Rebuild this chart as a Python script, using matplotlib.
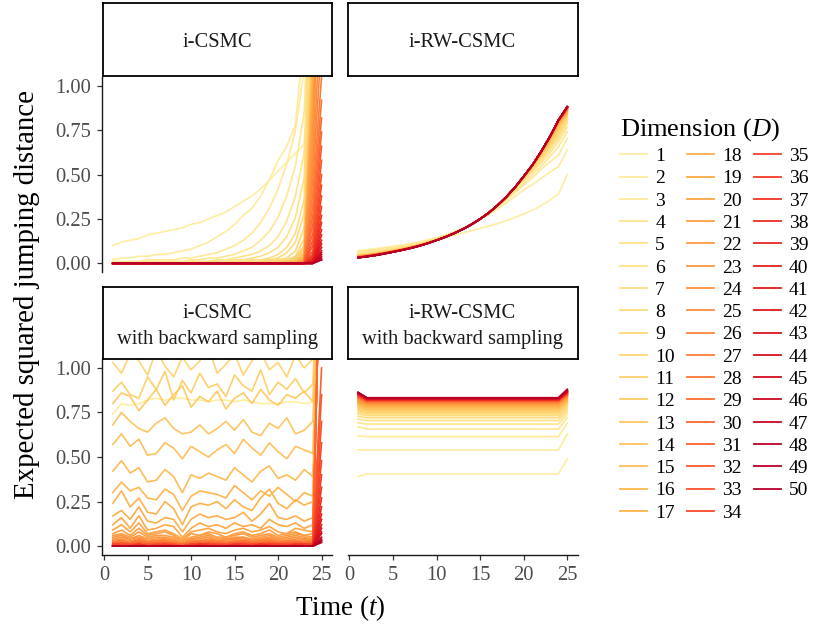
import numpy as np
import matplotlib
matplotlib.use("Agg")
import matplotlib.pyplot as plt

# Times-like serif everywhere, italic maths for t and D
plt.rcParams['font.family'] = ['Liberation Serif', 'DejaVu Serif']
plt.rcParams['mathtext.fontset'] = 'custom'
plt.rcParams['mathtext.rm'] = 'Liberation Serif'
plt.rcParams['mathtext.it'] = 'Liberation Serif:italic'

time_steps = list(range(1, 26))
dimensions = list(range(1, 51))
panel_titles = ['i-CSMC', 'i-RW-CSMC',
                'i-CSMC\nwith backward sampling', 'i-RW-CSMC\nwith backward sampling']

# i-CSMC, ESJD in hundredths: one row per D = 1..50, columns t = 1..25
csmc_esjd = """
10 12 13 14 16 17 18 19 20 22 23 25 27 29 32 35 38 42 47 52 57 62 67 130 200
2 3 3 4 4 5 5 6 7 8 10 12 15 18 22 27 31 38 47 58 66 78 130 200 200
1 1 1 1 2 2 2 2 3 3 4 5 6 8 10 13 17 23 31 42 56 75 110 200 200
0 0 1 1 1 1 1 1 1 2 2 3 3 4 5 7 9 13 18 26 38 55 85 200 200
0 0 0 0 0 0 1 1 1 1 1 1 2 2 3 4 5 7 10 15 24 38 62 200 200
0 0 0 0 0 0 0 0 0 1 1 1 1 1 2 2 3 4 6 9 15 26 48 200 200
0 0 0 0 0 0 0 0 0 0 0 1 1 1 1 1 2 2 3 5 9 17 36 200 200
0 0 0 0 0 0 0 0 0 0 0 0 0 0 1 1 1 1 2 3 6 12 28 190 200
0 0 0 0 0 0 0 0 0 0 0 0 0 0 0 0 1 1 1 2 3 7 20 170 200
0 0 0 0 0 0 0 0 0 0 0 0 0 0 0 0 0 1 1 1 2 4 14 150 200
0 0 0 0 0 0 0 0 0 0 0 0 0 0 0 0 0 0 1 1 1 3 10 140 200
0 0 0 0 0 0 0 0 0 0 0 0 0 0 0 0 0 0 0 1 1 2 8 130 200
0 0 0 0 0 0 0 0 0 0 0 0 0 0 0 0 0 0 0 0 1 1 6 125 200
0 0 0 0 0 0 0 0 0 0 0 0 0 0 0 0 0 0 0 0 1 1 5 120 200
0 0 0 0 0 0 0 0 0 0 0 0 0 0 0 0 0 0 0 0 0 1 4 115 200
0 0 0 0 0 0 0 0 0 0 0 0 0 0 0 0 0 0 0 0 0 1 3 110 200
0 0 0 0 0 0 0 0 0 0 0 0 0 0 0 0 0 0 0 0 0 0 3 105 200
0 0 0 0 0 0 0 0 0 0 0 0 0 0 0 0 0 0 0 0 0 0 2 100 200
0 0 0 0 0 0 0 0 0 0 0 0 0 0 0 0 0 0 0 0 0 0 2 95 200
0 0 0 0 0 0 0 0 0 0 0 0 0 0 0 0 0 0 0 0 0 0 2 90 200
0 0 0 0 0 0 0 0 0 0 0 0 0 0 0 0 0 0 0 0 0 0 1 85 200
0 0 0 0 0 0 0 0 0 0 0 0 0 0 0 0 0 0 0 0 0 0 1 78 200
0 0 0 0 0 0 0 0 0 0 0 0 0 0 0 0 0 0 0 0 0 0 1 70 200
0 0 0 0 0 0 0 0 0 0 0 0 0 0 0 0 0 0 0 0 0 0 1 62 200
0 0 0 0 0 0 0 0 0 0 0 0 0 0 0 0 0 0 0 0 0 0 0 55 150
0 0 0 0 0 0 0 0 0 0 0 0 0 0 0 0 0 0 0 0 0 0 0 48 125
0 0 0 0 0 0 0 0 0 0 0 0 0 0 0 0 0 0 0 0 0 0 0 40 105
0 0 0 0 0 0 0 0 0 0 0 0 0 0 0 0 0 0 0 0 0 0 0 33 92
0 0 0 0 0 0 0 0 0 0 0 0 0 0 0 0 0 0 0 0 0 0 0 27 82
0 0 0 0 0 0 0 0 0 0 0 0 0 0 0 0 0 0 0 0 0 0 0 22 74
0 0 0 0 0 0 0 0 0 0 0 0 0 0 0 0 0 0 0 0 0 0 0 17 66
0 0 0 0 0 0 0 0 0 0 0 0 0 0 0 0 0 0 0 0 0 0 0 13 58
0 0 0 0 0 0 0 0 0 0 0 0 0 0 0 0 0 0 0 0 0 0 0 10 50
0 0 0 0 0 0 0 0 0 0 0 0 0 0 0 0 0 0 0 0 0 0 0 7 44
0 0 0 0 0 0 0 0 0 0 0 0 0 0 0 0 0 0 0 0 0 0 0 5 38
0 0 0 0 0 0 0 0 0 0 0 0 0 0 0 0 0 0 0 0 0 0 0 4 32
0 0 0 0 0 0 0 0 0 0 0 0 0 0 0 0 0 0 0 0 0 0 0 3 27
0 0 0 0 0 0 0 0 0 0 0 0 0 0 0 0 0 0 0 0 0 0 0 2 23
0 0 0 0 0 0 0 0 0 0 0 0 0 0 0 0 0 0 0 0 0 0 0 2 19
0 0 0 0 0 0 0 0 0 0 0 0 0 0 0 0 0 0 0 0 0 0 0 1 16
0 0 0 0 0 0 0 0 0 0 0 0 0 0 0 0 0 0 0 0 0 0 0 1 13
0 0 0 0 0 0 0 0 0 0 0 0 0 0 0 0 0 0 0 0 0 0 0 1 11
0 0 0 0 0 0 0 0 0 0 0 0 0 0 0 0 0 0 0 0 0 0 0 0 9
0 0 0 0 0 0 0 0 0 0 0 0 0 0 0 0 0 0 0 0 0 0 0 0 7
0 0 0 0 0 0 0 0 0 0 0 0 0 0 0 0 0 0 0 0 0 0 0 0 6
0 0 0 0 0 0 0 0 0 0 0 0 0 0 0 0 0 0 0 0 0 0 0 0 5
0 0 0 0 0 0 0 0 0 0 0 0 0 0 0 0 0 0 0 0 0 0 0 0 4
0 0 0 0 0 0 0 0 0 0 0 0 0 0 0 0 0 0 0 0 0 0 0 0 3
0 0 0 0 0 0 0 0 0 0 0 0 0 0 0 0 0 0 0 0 0 0 0 0 2
0 0 0 0 0 0 0 0 0 0 0 0 0 0 0 0 0 0 0 0 0 0 0 0 2
"""

# i-RW-CSMC, ESJD in thousandths
rw_esjd = """
72 77 83 89 96 103 111 119 128 138 148 159 171 184 197 210 224 240 258 278 300 325 355 390 500
65 71 78 85 93 101 110 121 132 145 160 176 196 219 245 274 307 340 377 414 443 479 514 545 640
60 66 72 80 88 96 106 116 128 140 157 176 198 222 250 282 317 355 398 441 482 530 571 610 705
56 61 67 74 81 89 98 109 122 136 153 172 194 220 250 282 320 359 402 451 499 548 600 658 742
53 58 64 71 78 87 96 107 120 134 151 171 193 219 249 284 324 367 413 466 515 567 621 687 768
50 55 61 69 78 87 96 107 120 135 151 171 192 219 250 285 325 368 417 471 524 580 639 707 790
48 53 59 68 76 85 94 106 119 134 151 171 192 219 250 285 327 370 419 475 529 589 650 723 804
46 51 58 66 75 84 94 105 119 134 151 171 192 219 250 285 327 371 422 478 534 595 660 735 817
45 50 57 65 74 83 93 104 118 133 150 170 192 219 250 285 327 372 423 480 537 601 669 747 826
44 49 56 64 73 82 92 104 118 133 150 170 192 219 250 285 327 372 424 482 539 605 675 755 830
43 48 55 63 72 81 91 103 117 132 150 170 192 219 250 285 327 373 425 484 542 610 681 763 835
42 47 54 62 71 80 91 103 117 132 149 170 192 219 250 285 327 373 426 485 544 613 686 769 839
41 46 53 61 70 80 90 102 116 132 149 170 192 219 250 285 327 373 426 486 546 616 690 774 843
41 46 53 61 70 79 90 102 116 131 149 169 192 219 250 285 327 373 427 487 547 618 694 779 846
40 46 52 61 70 79 90 102 116 131 149 169 192 219 250 285 327 374 427 487 548 620 697 783 849
40 45 52 60 69 79 89 101 116 131 149 169 192 219 250 285 327 374 427 488 549 621 699 786 852
39 45 52 60 69 78 89 101 115 131 149 169 192 219 250 285 327 374 427 488 550 622 701 789 855
39 44 51 60 69 78 89 101 115 131 148 169 192 219 250 285 327 374 427 488 550 623 703 792 858
38 44 51 59 68 78 88 101 115 131 148 169 192 219 250 285 327 374 427 489 551 624 704 794 860
38 44 51 59 68 78 88 100 115 131 148 169 192 219 250 285 327 374 428 489 551 625 705 796 862
37 43 50 59 68 77 88 100 115 130 148 169 192 219 250 285 327 374 428 489 552 625 706 797 864
37 43 50 58 68 77 88 100 114 130 148 169 192 219 250 285 327 374 428 489 552 626 707 798 865
37 43 50 58 67 77 88 100 114 130 148 169 192 219 250 285 327 374 428 489 552 626 708 799 867
36 42 50 58 67 77 87 100 114 130 148 169 192 219 250 285 327 374 428 490 553 627 708 800 868
36 42 49 58 67 77 87 100 114 130 148 169 192 219 250 285 327 374 428 490 553 627 709 801 869
36 42 49 58 67 76 87 99 114 130 148 169 192 219 250 285 327 374 428 490 553 627 709 802 870
35 41 49 57 67 76 87 99 114 130 148 169 192 219 250 285 327 374 428 490 553 628 710 802 871
35 41 49 57 66 76 87 99 114 130 148 169 192 219 250 285 327 374 428 490 553 628 710 803 872
35 41 48 57 66 76 87 99 114 130 148 169 192 219 250 285 327 374 428 490 554 628 711 803 873
35 41 48 57 66 76 87 99 114 130 148 169 192 219 250 285 327 374 428 490 554 628 711 804 874
34 40 48 57 66 76 86 99 113 130 148 169 192 219 250 285 327 374 428 490 554 629 711 804 875
34 40 48 56 66 75 86 99 113 130 148 169 192 219 250 285 327 374 428 490 554 629 712 805 876
34 40 48 56 66 75 86 99 113 130 148 169 192 219 250 285 327 374 428 490 554 629 712 805 876
34 40 47 56 65 75 86 99 113 130 148 169 192 219 250 285 327 374 428 490 554 629 712 806 877
34 40 47 56 65 75 86 98 113 130 148 169 192 219 250 285 327 374 428 490 554 629 712 806 878
33 39 47 56 65 75 86 98 113 130 148 169 192 219 250 285 327 374 428 490 554 629 713 806 878
33 39 47 55 65 75 86 98 113 130 148 169 192 219 250 285 327 374 428 490 554 630 713 807 879
33 39 46 55 65 75 86 98 113 130 148 169 192 219 250 285 327 374 428 490 554 630 713 807 879
33 39 46 55 65 75 85 98 113 130 148 169 192 219 250 285 327 374 428 490 554 630 713 807 880
33 39 46 55 64 75 85 98 113 130 148 169 192 219 250 285 327 374 428 490 554 630 713 807 880
33 39 46 55 64 74 85 98 113 130 148 169 192 219 250 285 327 374 428 490 554 630 714 807 881
33 38 46 55 64 74 85 98 113 130 148 169 192 219 250 285 327 374 428 490 554 630 714 808 881
32 38 46 54 64 74 85 98 113 130 148 169 192 219 250 285 327 374 428 490 554 630 714 808 881
32 38 46 54 64 74 85 98 113 130 148 169 192 219 250 285 327 374 428 490 554 630 714 808 882
32 38 45 54 64 74 85 98 113 130 148 169 192 219 250 285 327 374 428 490 554 630 714 808 882
32 38 45 54 64 74 85 98 113 130 148 169 192 219 250 285 327 374 428 490 554 630 714 808 882
32 38 45 54 64 74 85 98 113 130 148 169 192 219 250 285 327 374 428 490 554 630 714 808 883
32 38 45 54 64 74 85 98 113 130 148 169 192 219 250 285 327 374 428 490 554 630 714 808 883
32 38 45 54 64 74 85 98 113 130 148 169 192 219 250 285 327 374 428 490 554 630 714 808 883
32 38 45 54 64 74 85 98 113 130 148 169 192 219 250 285 327 374 428 490 554 630 714 808 883
"""

# i-CSMC with backward sampling, ESJD in hundredths (D = 2..9 sit above the y range)
csmc_bs_esjd = """
74 80 79 80 82 83 82 83 83 82 82 81 82 82 81 82 81 80 80 80 81 81 80 81 200
152 146 158 149 155 147 160 151 145 156 150 148 157 153 146 159 150 154 147 152 149 156 151 148 200
148 141 153 145 150 142 155 146 140 151 145 143 152 148 141 154 145 149 142 147 144 151 146 143 200
143 136 148 140 145 137 150 141 135 146 140 138 147 143 136 149 140 144 137 142 139 146 141 138 200
138 131 143 135 140 132 145 136 130 141 135 133 142 138 131 144 135 139 132 137 134 141 136 133 200
133 126 138 130 135 127 140 131 125 136 130 128 137 133 126 139 130 134 127 132 129 136 131 128 200
127 120 132 124 129 121 134 125 119 130 124 122 131 127 120 133 124 128 121 126 123 130 125 122 200
120 113 125 117 122 114 127 118 112 123 117 115 124 120 113 126 117 121 114 119 116 123 118 115 200
113 107 118 110 115 108 120 111 106 116 110 109 117 113 107 119 110 114 108 112 109 116 111 108 200
103 97 108 104 96 110 101 95 106 99 104 112 97 102 108 96 104 109 99 103 95 107 100 105 200
87 92 85 83 95 88 98 82 93 86 97 89 91 84 96 90 87 99 85 92 88 94 86 91 200
80 86 84 76 82 88 79 85 90 78 84 81 87 77 83 86 80 88 82 79 85 83 87 81 200
68 75 70 66 64 69 72 66 63 64 68 63 66 70 65 71 64 62 69 66 72 63 65 70 200
57 63 56 60 51 52 58 55 49 56 53 50 54 57 52 60 55 51 58 53 49 56 54 52 200
42 48 41 44 36 37 43 39 30 40 38 41 39 37 44 40 36 42 45 38 40 37 43 39 200
30 36 31 33 27 26 32 29 20 28 31 30 29 27 34 30 26 31 28 33 29 25 30 28 200
24 31 22 27 19 18 25 21 12 22 24 23 25 21 26 22 20 27 32 24 21 26 23 25 200
17 20 15 22 14 13 16 15 8 15 18 16 17 15 16 19 14 18 24 16 15 17 14 16 200
12 16 10 17 9 10 12 11 5 10 13 11 12 10 13 11 12 10 15 12 11 13 10 12 200
9 12 8 13 7 8 9 7 4 8 9 10 8 7 9 10 8 9 11 8 7 10 9 8 200
7 9 6 10 6 7 8 6 3 7 6 8 7 5 7 8 6 7 9 6 7 8 6 7 200
6 7 5 8 5 6 6 5 3 5 6 7 5 5 6 7 5 6 7 5 6 7 6 5 200
5 6 4 6 4 5 5 4 2 4 5 6 4 4 5 5 4 5 6 4 5 6 5 4 200
4 5 4 5 3 4 4 3 2 4 4 5 3 4 4 5 3 4 5 4 4 5 4 4 200
3 4 3 4 3 3 4 3 2 3 3 4 3 3 4 4 3 4 4 3 3 4 4 3 200
3 3 2 4 2 3 3 2 1 3 3 3 3 2 3 3 3 3 4 3 3 3 3 3 200
2 3 2 3 2 2 3 2 1 2 3 3 2 2 3 3 2 3 3 2 3 3 2 3 200
2 2 2 3 2 2 2 2 1 2 2 2 2 2 2 3 2 2 3 2 2 2 2 2 200
2 2 1 2 1 2 2 1 1 2 2 2 2 1 2 2 2 2 2 2 2 2 2 2 200
1 2 1 2 1 1 2 1 1 1 2 2 1 1 2 2 1 2 2 1 2 2 1 2 200
1 1 1 2 1 1 1 1 0 1 1 2 1 1 1 2 1 1 2 1 1 2 1 1 100
1 1 1 1 1 1 1 1 0 1 1 1 1 1 1 1 1 1 1 1 1 1 1 1 85
1 1 1 1 0 1 1 1 0 1 1 1 1 1 1 1 1 1 1 1 1 1 1 1 70
1 1 0 1 0 1 1 0 0 1 1 1 1 0 1 1 1 1 1 1 1 1 1 1 58
1 0 0 1 0 0 1 0 0 1 1 1 0 0 1 1 0 1 1 1 0 1 1 1 48
0 0 0 1 0 0 1 0 0 0 1 1 0 0 1 1 0 1 1 0 0 1 1 0 40
0 0 0 1 0 0 0 0 0 0 1 0 0 0 1 0 0 1 0 0 0 1 0 0 33
0 0 0 0 0 0 0 0 0 0 1 0 0 0 0 0 0 1 0 0 0 0 0 0 27
0 0 0 0 0 0 0 0 0 0 0 0 0 0 0 0 0 0 0 0 0 0 0 0 22
0 0 0 0 0 0 0 0 0 0 0 0 0 0 0 0 0 0 0 0 0 0 0 0 18
0 0 0 0 0 0 0 0 0 0 0 0 0 0 0 0 0 0 0 0 0 0 0 0 15
0 0 0 0 0 0 0 0 0 0 0 0 0 0 0 0 0 0 0 0 0 0 0 0 12
0 0 0 0 0 0 0 0 0 0 0 0 0 0 0 0 0 0 0 0 0 0 0 0 10
0 0 0 0 0 0 0 0 0 0 0 0 0 0 0 0 0 0 0 0 0 0 0 0 8
0 0 0 0 0 0 0 0 0 0 0 0 0 0 0 0 0 0 0 0 0 0 0 0 7
0 0 0 0 0 0 0 0 0 0 0 0 0 0 0 0 0 0 0 0 0 0 0 0 5
0 0 0 0 0 0 0 0 0 0 0 0 0 0 0 0 0 0 0 0 0 0 0 0 4
0 0 0 0 0 0 0 0 0 0 0 0 0 0 0 0 0 0 0 0 0 0 0 0 3
0 0 0 0 0 0 0 0 0 0 0 0 0 0 0 0 0 0 0 0 0 0 0 0 3
0 0 0 0 0 0 0 0 0 0 0 0 0 0 0 0 0 0 0 0 0 0 0 0 2
"""

# i-RW-CSMC with backward sampling (thousandths): flat lines, value at t=1,
# level for t=2..24, value at t=25
rw_bs_first = [390, 540, 618, 670, 692, 712, 728, 741, 752, 761,
               769, 776, 782, 788, 793, 797, 801, 805, 809, 812,
               816, 819, 822, 825, 828, 830, 833, 835, 837, 839,
               841, 843, 845, 847, 848, 850, 851, 852, 854, 855,
               856, 857, 858, 859, 860, 860, 861, 862, 862, 863]
rw_bs_level = [405, 540, 615, 657, 685, 705, 720, 732, 742, 750,
               757, 763, 768, 773, 777, 781, 785, 788, 791, 794,
               797, 799, 801, 803, 805, 807, 809, 811, 812, 814,
               815, 817, 818, 819, 820, 821, 822, 823, 824, 825,
               826, 827, 828, 829, 829, 830, 831, 832, 832, 833]
rw_bs_last = [490, 630, 690, 722, 742, 757, 769, 779, 787, 794,
              800, 805, 810, 814, 818, 821, 824, 827, 830, 833,
              835, 837, 839, 841, 843, 845, 847, 849, 850, 852,
              853, 855, 856, 857, 859, 860, 861, 862, 864, 865,
              866, 867, 868, 869, 870, 872, 874, 876, 878, 880]


def read_table(txt, scale):
    rows = [[float(v) for v in line.split()] for line in txt.strip().splitlines()]
    for i, r in enumerate(rows):
        if len(r) != 25:
            raise ValueError('row %d has %d values' % (i + 1, len(r)))
    return np.array(rows) / scale


rw_bs = np.array([[a] + [b] * 23 + [c] for a, b, c in
                  zip(rw_bs_first, rw_bs_level, rw_bs_last)]) / 1000.0

panels = [read_table(csmc_esjd, 100.0), read_table(rw_esjd, 1000.0),
          read_table(csmc_bs_esjd, 100.0), rw_bs]

cmap = plt.get_cmap('YlOrRd')
colours = [cmap(0.125 + (d - 1) * 0.0156) for d in dimensions]

fig = plt.figure(figsize=(8.2, 6.31), dpi=100)

# panel and strip boxes in figure fractions (2 x 2 facets)
panel_rects = [[0.1248, 0.5686, 0.2801, 0.3093], [0.4240, 0.5686, 0.2805, 0.3093],
               [0.1248, 0.1204, 0.2801, 0.3106], [0.4240, 0.1204, 0.2805, 0.3106]]
strip_rects = [[0.1255, 0.8795, 0.2795, 0.1155], [0.4240, 0.8795, 0.2805, 0.1155],
               [0.1255, 0.4311, 0.2795, 0.1141], [0.4240, 0.4311, 0.2805, 0.1141]]

tick_grey = '#4D4D4D'
handles = None
for i in range(4):
    ax = fig.add_axes(panel_rects[i])
    lines = []
    for d in range(len(dimensions)):
        ln, = ax.plot(time_steps, panels[i][d], color=colours[d], lw=1.2,
                      label=str(dimensions[d]))
        lines.append(ln)
    if handles is None:
        handles = lines
    ax.set_xlim(-0.2, 26.2)
    ax.set_ylim(-0.05, 1.05)
    ax.set_xticks([0, 5, 10, 15, 20, 25])
    ax.set_yticks([0, 0.25, 0.5, 0.75, 1.0])
    ax.set_yticklabels(['0.00', '0.25', '0.50', '0.75', '1.00'])
    ax.spines['top'].set_visible(False)
    ax.spines['right'].set_visible(False)
    left_col = i % 2 == 0
    bottom_row = i >= 2
    ax.spines['left'].set_visible(left_col)
    ax.spines['bottom'].set_visible(bottom_row)
    for s in ('left', 'bottom'):
        ax.spines[s].set_linewidth(1.0)
        ax.spines[s].set_color('#1A1A1A')
    ax.tick_params(axis='y', left=left_col, labelleft=left_col, length=3.6,
                   width=0.9, color='#333333', labelcolor=tick_grey,
                   labelsize=14.8, pad=4.5)
    ax.tick_params(axis='x', bottom=bottom_row, labelbottom=bottom_row, length=3.6,
                   width=0.9, color='#333333', labelcolor=tick_grey,
                   labelsize=14.8, pad=4)

    sax = fig.add_axes(strip_rects[i])
    sax.set_xticks([])
    sax.set_yticks([])
    for sp in sax.spines.values():
        sp.set_linewidth(1.3)
        sp.set_color('black')
    sax.text(0.5, 0.46 if i < 2 else 0.45, panel_titles[i], ha='center', va='center',
             fontsize=14.8, color='#1A1A1A', linespacing=1.45, transform=sax.transAxes)

fig.text(0.033, 0.534, 'Expected squared jumping distance', rotation=90,
         ha='center', va='center', fontsize=20.8)
fig.text(0.415, 0.036, r'Time ($t$)', ha='center', va='center', fontsize=19.5)

leg = fig.legend(handles, [str(d) for d in dimensions], ncol=3, loc='upper left',
                 bbox_to_anchor=(0.7445, 0.8315), frameon=False, borderpad=0,
                 fontsize=14, title=r'Dimension ($D$)', title_fontsize=19,
                 alignment='left', handlelength=1.39, handletextpad=0.41,
                 columnspacing=0.62, labelspacing=0.24)
for lh in leg.get_lines():
    lh.set_linewidth(1.3)

fig.savefig('out.png', dpi=100)
